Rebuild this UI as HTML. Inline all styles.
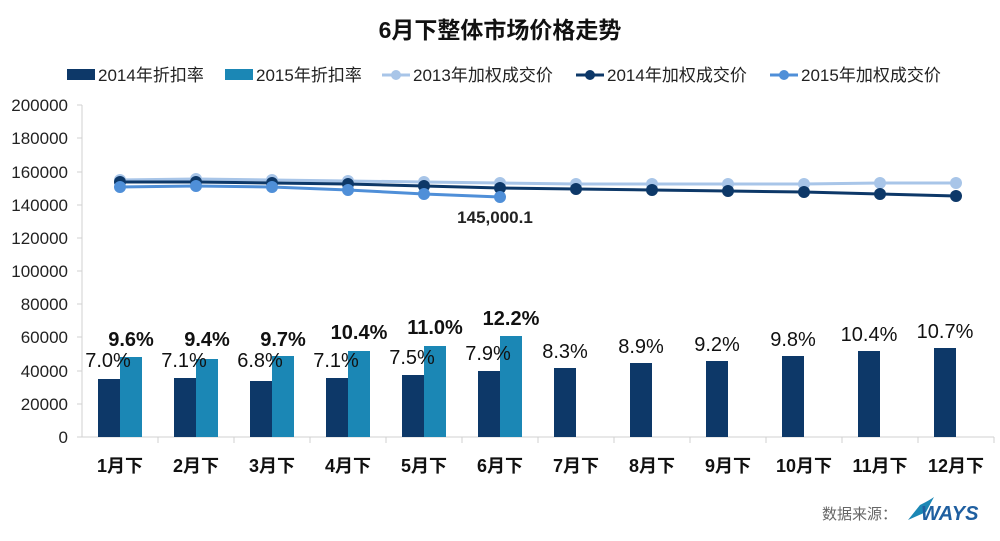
<!DOCTYPE html>
<html><head><meta charset="utf-8"><style>
body{margin:0;background:#fff;}
svg text{font-family:"Liberation Sans","Noto Sans CJK SC",sans-serif;}
</style></head><body>
<svg width="1000" height="536" xmlns="http://www.w3.org/2000/svg">
<text x="500" y="38" text-anchor="middle" font-size="23" font-weight="bold" fill="#111">6月下整体市场价格走势</text>
<!-- legend -->
<g font-size="17" fill="#222">
<rect x="67" y="69" width="28" height="11" fill="#0d3868"/><text x="98" y="81">2014年折扣率</text>
<rect x="225" y="69" width="28" height="11" fill="#1b87b5"/><text x="256" y="81">2015年折扣率</text>
<line x1="382" y1="75" x2="410" y2="75" stroke="#a8c5e8" stroke-width="3"/><circle cx="396" cy="75" r="5" fill="#a8c5e8"/><text x="413" y="81">2013年加权成交价</text>
<line x1="576" y1="75" x2="604" y2="75" stroke="#0d3868" stroke-width="3"/><circle cx="590" cy="75" r="5" fill="#0d3868"/><text x="607" y="81">2014年加权成交价</text>
<line x1="770" y1="75" x2="798" y2="75" stroke="#4f8fd8" stroke-width="3"/><circle cx="784" cy="75" r="5" fill="#4f8fd8"/><text x="801" y="81">2015年加权成交价</text>
</g>
<!-- axes -->
<g stroke="#d0d0d0" stroke-width="1">
<line x1="82" y1="105" x2="82" y2="437"/>
<line x1="82" y1="437" x2="994" y2="437"/>
<line x1="77" y1="105" x2="82" y2="105"/><line x1="77" y1="138" x2="82" y2="138"/><line x1="77" y1="172" x2="82" y2="172"/><line x1="77" y1="205" x2="82" y2="205"/><line x1="77" y1="238" x2="82" y2="238"/><line x1="77" y1="271" x2="82" y2="271"/><line x1="77" y1="304" x2="82" y2="304"/><line x1="77" y1="337" x2="82" y2="337"/><line x1="77" y1="371" x2="82" y2="371"/><line x1="77" y1="404" x2="82" y2="404"/><line x1="77" y1="437" x2="82" y2="437"/>
<line x1="158" y1="437" x2="158" y2="443"/><line x1="234" y1="437" x2="234" y2="443"/><line x1="310" y1="437" x2="310" y2="443"/><line x1="386" y1="437" x2="386" y2="443"/><line x1="462" y1="437" x2="462" y2="443"/><line x1="538" y1="437" x2="538" y2="443"/><line x1="614" y1="437" x2="614" y2="443"/><line x1="690" y1="437" x2="690" y2="443"/><line x1="766" y1="437" x2="766" y2="443"/><line x1="842" y1="437" x2="842" y2="443"/><line x1="918" y1="437" x2="918" y2="443"/><line x1="994" y1="437" x2="994" y2="443"/>
</g>
<g font-size="17" fill="#222" text-anchor="end">
<text x="68" y="111">200000</text><text x="68" y="144">180000</text><text x="68" y="178">160000</text><text x="68" y="211">140000</text><text x="68" y="244">120000</text><text x="68" y="277">100000</text><text x="68" y="310">80000</text><text x="68" y="343">60000</text><text x="68" y="377">40000</text><text x="68" y="410">20000</text><text x="68" y="443">0</text>
</g>
<!-- bars 2014 -->
<g fill="#0d3868">
<rect x="98" y="379" width="22" height="58"/>
<rect x="174" y="378" width="22" height="59"/>
<rect x="250" y="381" width="22" height="56"/>
<rect x="326" y="378" width="22" height="59"/>
<rect x="402" y="375" width="22" height="62"/>
<rect x="478" y="371" width="22" height="66"/>
<rect x="554" y="368" width="22" height="69"/>
<rect x="630" y="363" width="22" height="74"/>
<rect x="706" y="361" width="22" height="76"/>
<rect x="782" y="356" width="22" height="81"/>
<rect x="858" y="351" width="22" height="86"/>
<rect x="934" y="348" width="22" height="89"/>
</g>
<g fill="#1b87b5">
<rect x="120" y="357" width="22" height="80"/>
<rect x="196" y="359" width="22" height="78"/>
<rect x="272" y="356" width="22" height="81"/>
<rect x="348" y="351" width="22" height="86"/>
<rect x="424" y="346" width="22" height="91"/>
<rect x="500" y="336" width="22" height="101"/>
</g>
<!-- lines -->
<g fill="none" stroke-width="3">
<polyline stroke="#a8c5e8" points="120,180 196,179 272,180 348,181 424,182 500,183 576,184 652,184 728,184 804,184 880,183 956,183"/>
<polyline stroke="#0d3868" points="120,182 196,182 272,183 348,184 424,186 500,188 576,189 652,190 728,191 804,192 880,194 956,196"/>
<polyline stroke="#4f8fd8" points="120,187 196,186 272,187 348,190 424,194 500,197"/>
</g>
<g fill="#a8c5e8"><circle cx="120" cy="180" r="6"/><circle cx="196" cy="179" r="6"/><circle cx="272" cy="180" r="6"/><circle cx="348" cy="181" r="6"/><circle cx="424" cy="182" r="6"/><circle cx="500" cy="183" r="6"/><circle cx="576" cy="184" r="6"/><circle cx="652" cy="184" r="6"/><circle cx="728" cy="184" r="6"/><circle cx="804" cy="184" r="6"/><circle cx="880" cy="183" r="6"/><circle cx="956" cy="183" r="6"/></g>
<g fill="#0d3868"><circle cx="120" cy="182" r="6"/><circle cx="196" cy="182" r="6"/><circle cx="272" cy="183" r="6"/><circle cx="348" cy="184" r="6"/><circle cx="424" cy="186" r="6"/><circle cx="500" cy="188" r="6"/><circle cx="576" cy="189" r="6"/><circle cx="652" cy="190" r="6"/><circle cx="728" cy="191" r="6"/><circle cx="804" cy="192" r="6"/><circle cx="880" cy="194" r="6"/><circle cx="956" cy="196" r="6"/></g>
<g fill="#4f8fd8"><circle cx="120" cy="187" r="6"/><circle cx="196" cy="186" r="6"/><circle cx="272" cy="187" r="6"/><circle cx="348" cy="190" r="6"/><circle cx="424" cy="194" r="6"/><circle cx="500" cy="197" r="6"/></g>
<text x="495" y="223" text-anchor="middle" font-size="17" font-weight="bold" fill="#222">145,000.1</text>
<!-- labels -->
<g font-size="20" fill="#111" text-anchor="middle">
<text x="108" y="367">7.0%</text><text x="184" y="367">7.1%</text><text x="260" y="367">6.8%</text><text x="336" y="367">7.1%</text><text x="412" y="364">7.5%</text><text x="488" y="360">7.9%</text>
<text x="565" y="358">8.3%</text><text x="641" y="353">8.9%</text><text x="717" y="351">9.2%</text><text x="793" y="346">9.8%</text><text x="869" y="341">10.4%</text><text x="945" y="338">10.7%</text>
</g>
<g font-size="20" font-weight="bold" fill="#111" text-anchor="middle">
<text x="131" y="346">9.6%</text><text x="207" y="346">9.4%</text><text x="283" y="346">9.7%</text><text x="359" y="339">10.4%</text><text x="435" y="334">11.0%</text><text x="511" y="325">12.2%</text>
</g>
<g font-size="18" font-weight="bold" fill="#111" text-anchor="middle">
<text x="120" y="472">1月下</text><text x="196" y="472">2月下</text><text x="272" y="472">3月下</text><text x="348" y="472">4月下</text><text x="424" y="472">5月下</text><text x="500" y="472">6月下</text><text x="576" y="472">7月下</text><text x="652" y="472">8月下</text><text x="728" y="472">9月下</text><text x="804" y="472">10月下</text><text x="880" y="472">11月下</text><text x="956" y="472">12月下</text>
</g>
<text x="822" y="519" font-size="15" fill="#666">数据来源：</text>
<path d="M908,520 L920,505 Q930,500 934,497 L926,512 Z" fill="#1b87b5"/>
<text x="921" y="520" font-size="20" font-weight="bold" font-style="italic" fill="#1f5fa0">WAYS</text>
</svg>
</body></html>
